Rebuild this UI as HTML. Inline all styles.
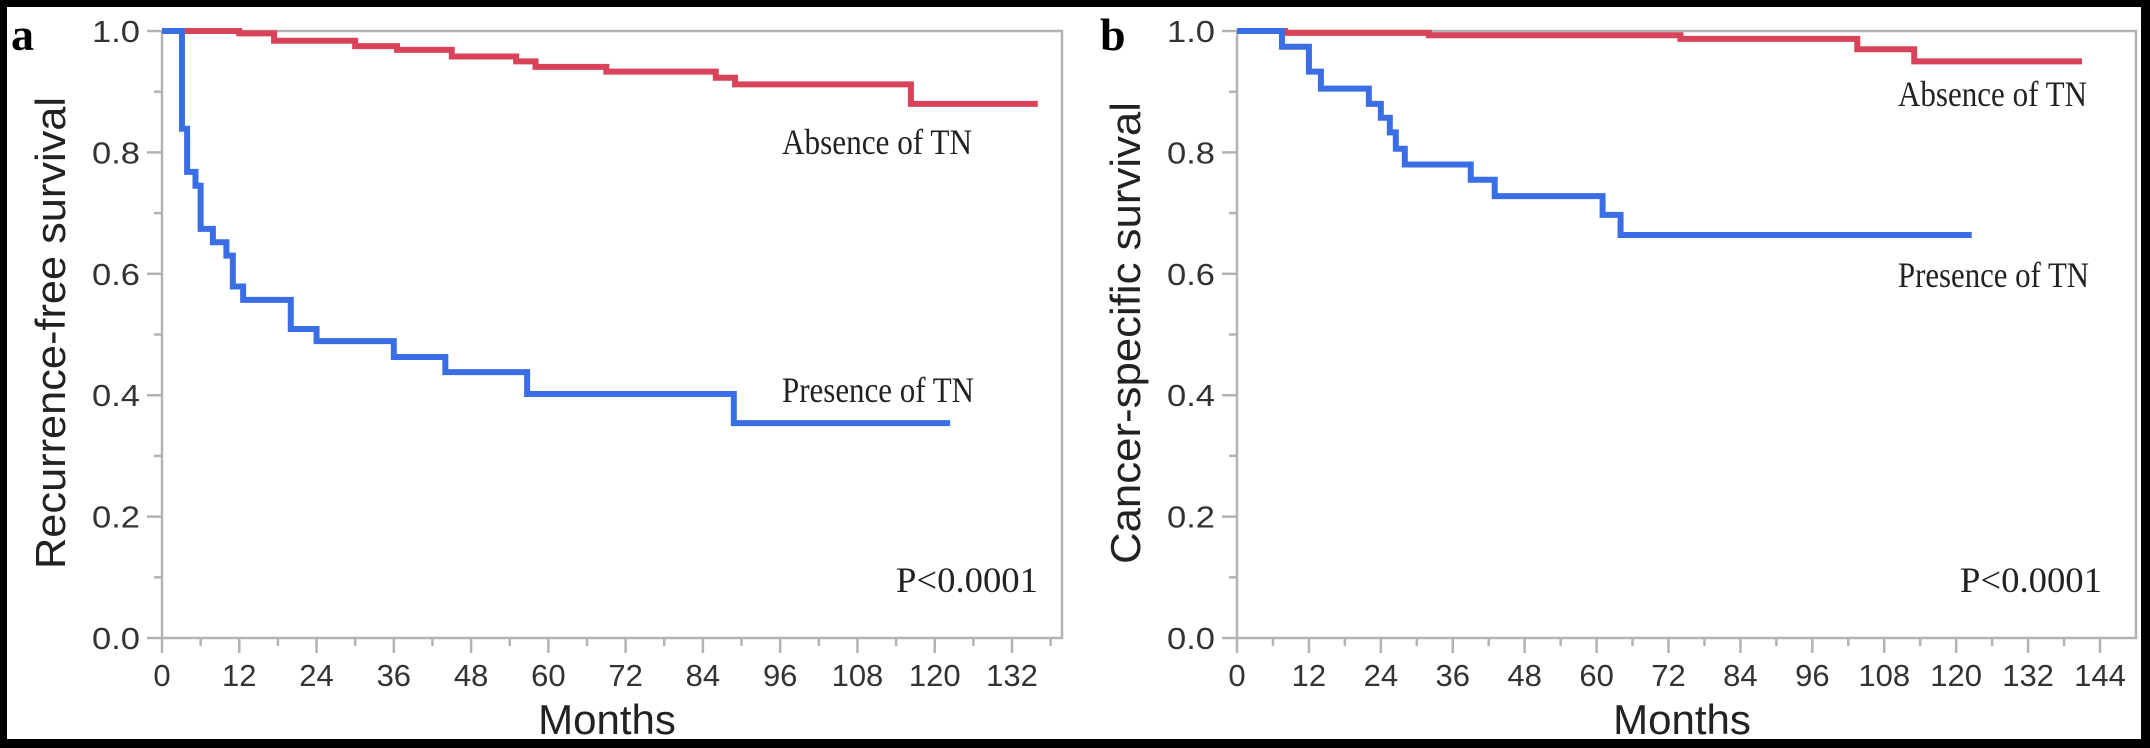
<!DOCTYPE html>
<html><head><meta charset="utf-8"><style>
html,body{margin:0;padding:0;background:#000;}
svg{display:block;}
.tick{font-family:"Liberation Sans","DejaVu Sans",sans-serif;font-size:31px;fill:#333;}
.title{font-family:"Liberation Sans","DejaVu Sans",sans-serif;font-size:42px;fill:#222;}
.ann{font-family:"Liberation Serif",serif;font-size:36px;fill:#222;}
.lab{font-family:"Liberation Serif",serif;font-size:46px;font-weight:bold;fill:#000;}
</style></head><body>
<svg id="chart" xmlns="http://www.w3.org/2000/svg" width="2150" height="748" viewBox="0 0 2150 748">
<rect x="0" y="0" width="2150" height="748" fill="#000"/>
<rect x="7" y="7" width="2134" height="732" fill="#fff"/>
</svg>
<script>
// Panel a: recurrence-free survival
const aRedT = [0, 12, 17.4, 30, 36.5, 45, 55, 58, 69, 86, 89, 116.3, 136];
const aRedS = [1.0, 0.996, 0.984, 0.975, 0.969, 0.958, 0.95, 0.941, 0.933, 0.923, 0.912, 0.88, 0.88];
const aBlueT = [0, 3.1, 3.9, 5.2, 6, 7.9, 10, 11, 12.6, 20, 24, 36, 44, 56.7, 88.8, 122.4];
const aBlueS = [1.0, 0.839, 0.768, 0.745, 0.674, 0.652, 0.63, 0.579, 0.557, 0.509, 0.489, 0.463, 0.438, 0.402, 0.354, 0.354];
// Panel b: cancer-specific survival
const bRedT = [0, 8, 32, 74, 103.5, 113, 141];
const bRedS = [1.0, 0.997, 0.993, 0.987, 0.97, 0.95, 0.95];
const bBlueT = [0, 7.5, 12, 14, 22, 24, 25.5, 26.5, 28, 39, 43, 61, 64, 122.6];
const bBlueS = [1.0, 0.974, 0.933, 0.905, 0.88, 0.857, 0.833, 0.806, 0.78, 0.755, 0.728, 0.697, 0.664, 0.664];
const aXTicks = [0,12,24,36,48,60,72,84,96,108,120,132];
const bXTicks = [0,12,24,36,48,60,72,84,96,108,120,132,144];
const yTicks = [0.0,0.2,0.4,0.6,0.8,1.0];

const NS = 'http://www.w3.org/2000/svg';
const svg = document.getElementById('chart');
function mk(tag, attrs, parent){
  const e = document.createElementNS(NS, tag);
  for (const k in attrs) e.setAttribute(k, attrs[k]);
  (parent||svg).appendChild(e);
  return e;
}
function panel(cfg){
  const g = mk('g', {});
  
  
  const x = t => cfg.x0 + t * (cfg.x1 - cfg.x0) / cfg.xmax;
  const y = s => cfg.y0 - s * (cfg.y0 - cfg.y1);
  const fr = mk('rect', {x:cfg.x0, y:cfg.y1, width:cfg.right-cfg.x0, height:cfg.y0-cfg.y1, fill:'none', stroke:'#b3b3b3', 'stroke-width':2.5}, g);
  
  
  for (let v = 0; v <= 10; v++){
    const val = v/10, major = v % 2 === 0;
    const tk = mk('line', {x1:cfg.x0 - (major?15:8), x2:cfg.x0, y1:y(val), y2:y(val), stroke:'#b3b3b3', 'stroke-width':2.5}, g);
    
    
  }
  yTicks.forEach(v => {
    const t = mk('text', {x:cfg.x0 - 22, y:y(v) + 11, 'text-anchor':'end', class:'tick', textLength:48, lengthAdjust:'spacingAndGlyphs'}, g);
    t.textContent = v.toFixed(1);
    
    
  });
  for (let m = 0; m <= cfg.xminorMax; m += 6){
    const major = m % 12 === 0;
    const tk = mk('line', {x1:x(m), x2:x(m), y1:cfg.y0, y2:cfg.y0 + (major?15:8), stroke:'#b3b3b3', 'stroke-width':2.5}, g);
    
    
  }
  cfg.xticks.forEach(m => {
    const t = mk('text', {x:x(m), y:686, 'text-anchor':'middle', class:'tick'}, g);
    t.textContent = m;
    
    
  });
  const xt = mk('text', {x:cfg.xTitleX, y:734, 'text-anchor':'middle', class:'title'}, g);
  xt.textContent = 'Months';
  
  
  const yt = mk('text', {x:0, y:0, 'text-anchor':'middle', class:'title', textLength:cfg.ytLen, lengthAdjust:'spacingAndGlyphs', transform:'translate('+(cfg.x0-97)+',333) rotate(-90)'}, g);
  yt.textContent = cfg.ytitle;
  
  
  function step(T, S, color, name){
    let d = 'M' + x(T[0]) + ',' + y(S[0]);
    for (let i = 1; i < T.length; i++){
      d += ' H' + x(T[i]) + ' V' + y(S[i]);
    }
    const p = mk('path', {d:d, fill:'none', stroke:color, 'stroke-width':6, 'stroke-linejoin':'miter'}, g);
    
    
  }
  step(cfg.redT, cfg.redS, '#d9435a', cfg.id + '-absence-curve');
  step(cfg.blueT, cfg.blueS, '#3a6ee6', cfg.id + '-presence-curve');
  cfg.anns.forEach(a => {
    const t = mk('text', {x:a.x, y:a.y, class:'ann', textLength:a.w, lengthAdjust:'spacingAndGlyphs'}, g);
    t.textContent = a.text;
    
    
  });
  const l = mk('text', {x:cfg.labX, y:50, class:'lab'}, g);
  l.textContent = cfg.label;
  
  
}
panel({id:'a', x0:162, x1:1012, xmax:132, xminorMax:138, right:1062, y0:638, y1:31,
  xticks:aXTicks, xTitleX:607, ytitle:'Recurrence-free survival', ytLen:472,
  redT:aRedT, redS:aRedS, blueT:aBlueT, blueS:aBlueS, label:'a', labX:11,
  anns:[{text:'Absence of TN', x:782, y:154, w:190, name:'a-absence-label'},
        {text:'Presence of TN', x:782, y:402, w:192, name:'a-presence-label'},
        {text:'P<0.0001', x:896, y:592, w:142, name:'a-p-value'}]});
panel({id:'b', x0:1237, x1:2100, xmax:144, xminorMax:144, right:2136, y0:638, y1:31,
  xticks:bXTicks, xTitleX:1682, ytitle:'Cancer-specific survival', ytLen:462,
  redT:bRedT, redS:bRedS, blueT:bBlueT, blueS:bBlueS, label:'b', labX:1100,
  anns:[{text:'Absence of TN', x:1898, y:106, w:189, name:'b-absence-label'},
        {text:'Presence of TN', x:1898, y:287, w:191, name:'b-presence-label'},
        {text:'P<0.0001', x:1960, y:592, w:142, name:'b-p-value'}]});
</script>
</body></html>
